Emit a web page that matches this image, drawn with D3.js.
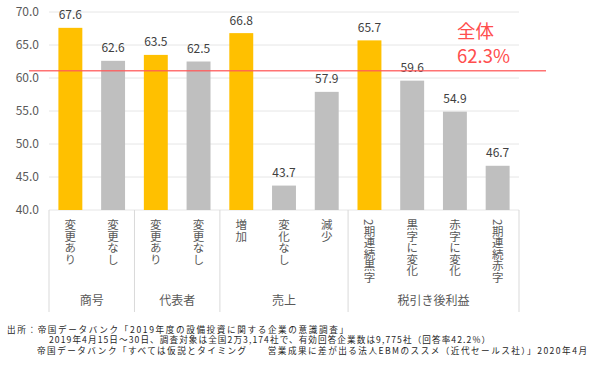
<!DOCTYPE html>
<html>
<head>
<meta charset="utf-8">
<script src="https://cdn.jsdelivr.net/npm/d3@7"></script>
<style>
  body { margin: 0; background: #fff; }
  svg { font-family: "Noto Sans CJK JP", "Noto Sans", sans-serif; }
</style>
</head>
<body>
<script>
    // data
    const categories = ["変更あり", "変更なし", "変更あり", "変更なし", "増加", "変化なし", "減少",
        "2期連続黒字", "黒字に変化", "赤字に変化", "2期連続赤字"];
    const values = [67.6, 62.6, 63.5, 62.5, 66.8, 43.7, 57.9, 65.7, 59.6, 54.9, 46.7];
    const highlight = [true, false, true, false, true, false, false, true, false, false, false];
    const groups = [
        { name: "商号", start: 0, end: 2 },
        { name: "代表者", start: 2, end: 4 },
        { name: "売上", start: 4, end: 7 },
        { name: "税引き後利益", start: 7, end: 11 }
    ];
    const yTicks = [40, 45, 50, 55, 60, 65, 70];
    const overallLabel = ["全体", "62.3%"];
    const overallLinePos = 61.1; // where the red line sits in the picture
    const notes = [
        "出所：帝国データバンク「2019年度の設備投資に関する企業の意識調査」",
        "2019年4月15日～30日、調査対象は全国2万3,174社で、有効回答企業数は9,775社（回答率42.2%）",
        "帝国データバンク「すべては仮説とタイミング　　営業成果に差が出る法人EBMのススメ（近代セールス社）」2020年4月"
    ];

    const width = 600, height = 366;
    const plotLeft = 49, plotRight = 519, plotTop = 12, plotBottom = 210;

    const svg = d3.select("body").append("svg")
        .attr("width", width)
        .attr("height", height);

    const x = d3.scaleBand()
        .domain(d3.range(categories.length))
        .range([plotLeft, plotRight])
        .paddingInner(0.44)
        .paddingOuter(0.22);

    const y = d3.scaleLinear().domain([40, 70]).range([plotBottom, plotTop]);

    // grid lines
    svg.selectAll(".grid")
        .data(yTicks)
        .enter()
        .append("line")
        .attr("x1", plotLeft)
        .attr("x2", plotRight)
        .attr("y1", d => y(d))
        .attr("y2", d => y(d))
        .attr("stroke", "#e6e6e6")
        .attr("stroke-width", 1);

    // y tick labels
    svg.selectAll(".ytick")
        .data(yTicks)
        .enter()
        .append("text")
        .attr("x", 39)
        .attr("y", d => y(d) + 4)
        .attr("text-anchor", "end")
        .attr("font-size", "12px")
        .attr("fill", "#595959")
        .text(d => d.toFixed(1));

    // bars
    svg.selectAll(".bar")
        .data(values)
        .enter()
        .append("rect")
        .attr("x", (d, i) => x(i))
        .attr("y", d => y(d))
        .attr("width", x.bandwidth())
        .attr("height", d => y(40) - y(d))
        .attr("fill", (d, i) => highlight[i] ? "#ffc000" : "#bfbfbf");

    // value labels
    svg.selectAll(".val")
        .data(values)
        .enter()
        .append("text")
        .attr("x", (d, i) => x(i) + x.bandwidth() / 2)
        .attr("y", d => y(d) - 8.5)
        .attr("text-anchor", "middle")
        .attr("font-size", "12px")
        .attr("fill", "#404040")
        .text(d => d.toFixed(1));

    // overall line
    svg.append("line")
        .attr("x1", 29)
        .attr("x2", 546)
        .attr("y1", y(overallLinePos))
        .attr("y2", y(overallLinePos))
        .attr("stroke", "#ff5a5a")
        .attr("stroke-opacity", 0.85)
        .attr("stroke-width", 1.5);

    const overall = svg.append("text")
        .attr("font-size", "18.5px")
        .attr("fill", "#ff4d4d");
    overall.selectAll("tspan")
        .data(overallLabel)
        .enter()
        .append("tspan")
        .attr("x", 457)
        .attr("y", (d, i) => 38 + i * 25)
        .text(d => d);

    // category axis: separators between groups
    const sepX = groups.map(g => g.start === 0 ? plotLeft : x(g.start) - x.step() * x.paddingInner() / 2);
    sepX.push(plotRight);
    svg.selectAll(".sep")
        .data(sepX)
        .enter()
        .append("line")
        .attr("x1", d => d)
        .attr("x2", d => d)
        .attr("y1", plotBottom)
        .attr("y2", 312)
        .attr("stroke", "#d9d9d9");

    // vertical category labels
    svg.selectAll(".cat")
        .data(categories)
        .enter()
        .append("text")
        .attr("x", (d, i) => x(i) + x.bandwidth() / 2)
        .attr("y", 219)
        .attr("font-size", "11.5px")
        .attr("fill", "#595959")
        .style("writing-mode", "vertical-rl")
        .text(d => d);

    // group labels
    svg.selectAll(".grp")
        .data(groups)
        .enter()
        .append("text")
        .attr("x", (d, i) => (sepX[i] + sepX[i + 1]) / 2)
        .attr("y", 305)
        .attr("text-anchor", "middle")
        .attr("font-size", "12px")
        .attr("fill", "#595959")
        .text(d => d.name);

    // source notes
    const noteX = [7, 49, 37];
    const noteW = [341, 441, 550];
    svg.selectAll(".note")
        .data(notes)
        .enter()
        .append("text")
        .attr("x", (d, i) => noteX[i])
        .attr("y", (d, i) => 332.5 + i * 10.8)
        .attr("font-size", "8.6px")
        .attr("fill", "#262626")
        .attr("textLength", (d, i) => noteW[i])
        .attr("lengthAdjust", "spacing")
        .text(d => d);
</script>
</body>
</html>
